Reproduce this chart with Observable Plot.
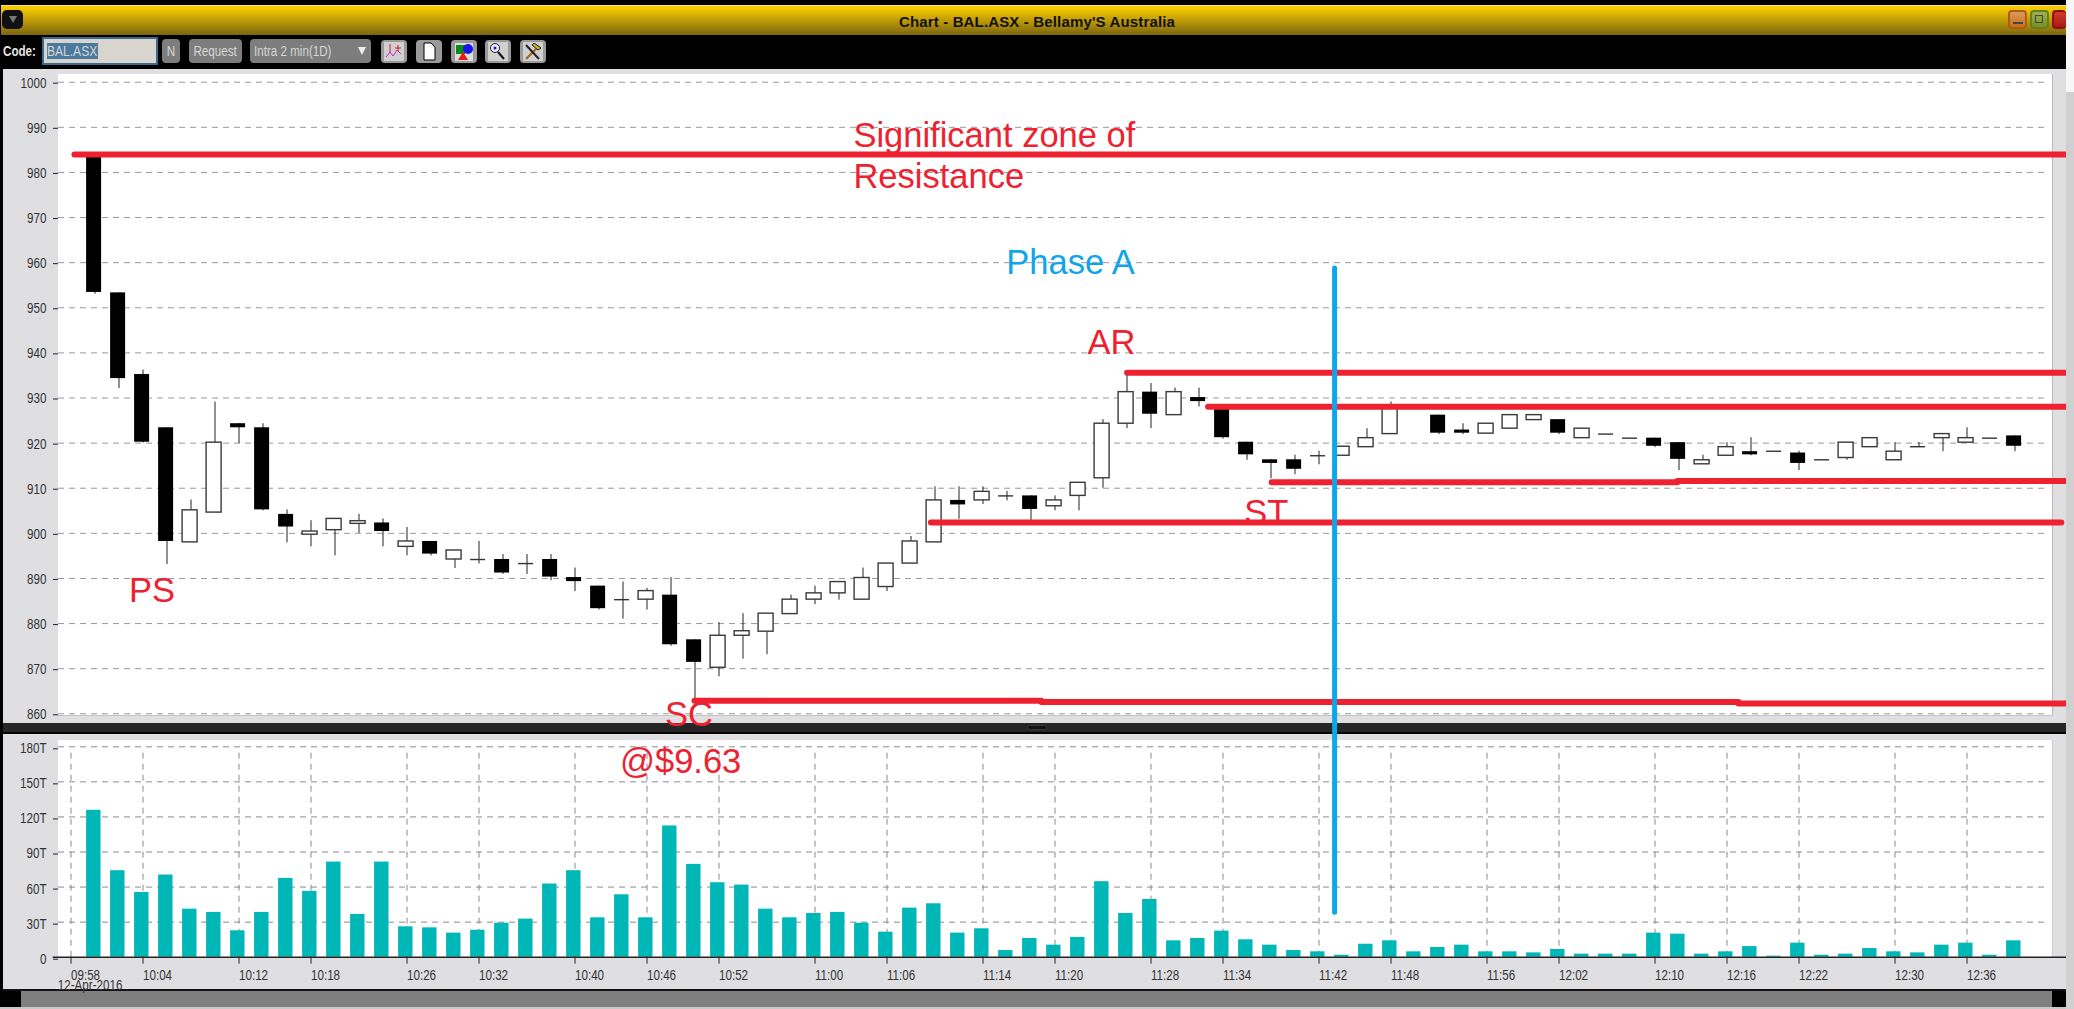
<!DOCTYPE html>
<html>
<head>
<meta charset="utf-8">
<script src="https://cdn.jsdelivr.net/npm/d3@7"></script>
<script src="https://cdn.jsdelivr.net/npm/@observablehq/plot@0.6"></script>
<style>
html,body{margin:0;padding:0;background:#000;width:2074px;height:1009px;overflow:hidden}
#page{position:absolute;left:0;top:0;width:2074px;height:1009px;overflow:hidden;background:#000;font-family:"Liberation Sans",sans-serif}
.b{position:absolute;box-sizing:border-box}
.btn{position:absolute;box-sizing:border-box;top:39px;height:24px;background:#7d7d7d;border-radius:4px;color:#d6d6d6;font-size:14px;line-height:24px;text-align:center;white-space:nowrap}
.nar{display:inline-block;transform:scaleX(.83);white-space:nowrap}
.ico{position:absolute;box-sizing:border-box;top:40px;height:23px;width:26px;background:#9a9a9a;border-radius:4px;overflow:hidden}
.ico svg{position:absolute;left:0;top:0}
.win{position:absolute;top:10px;height:19px;width:19px;border-radius:4px;box-sizing:border-box}
#plots svg{position:absolute;left:0;top:0;background:transparent}
</style>
</head>
<body>
<div id="page">
  <!-- window chrome -->
  <div class="b" style="left:1px;top:5px;width:2065px;height:30px;background:linear-gradient(#f6cd00,#f0c400 12%,#7b6510);border-top:1px solid #f7e27a"></div>
  <div class="b" style="left:0;top:35px;width:2066px;height:34px;background:#000"></div>
  <div class="b" style="left:2px;top:10px;width:21px;height:19px;background:#111;border-radius:5px"></div>
  <div class="b" style="left:9px;top:16px;width:0;height:0;border-left:4px solid transparent;border-right:4px solid transparent;border-top:7px solid #777"></div>
  <div class="b" style="left:0;top:13px;width:2074px;height:18px;text-align:center;font:bold 15px/18px 'Liberation Sans',sans-serif;letter-spacing:.15px;color:#111">Chart - BAL.ASX - Bellamy'S Australia</div>
  <div class="win" style="left:2008px;background:linear-gradient(#d89a5c,#c66f1c);border:2px solid #b45a10"></div>
  <div class="b" style="left:2013px;top:22px;width:10px;height:2px;background:#444"></div>
  <div class="win" style="left:2030px;background:linear-gradient(#a0b050,#77901c);border:2px solid #67801a"></div>
  <div class="b" style="left:2035px;top:15px;width:8px;height:8px;border:1px solid #445"></div>
  <div class="win" style="left:2052px;width:14px;background:linear-gradient(#d03a30,#a81a14);border:2px solid #901010;border-right:0"></div>

  <div class="b" style="left:3px;top:43px;color:#e4e4e4;font-size:14px;font-weight:bold;line-height:17px"><span class="nar" style="transform-origin:left">Code:</span></div>
  <div class="b" style="left:42px;top:37px;width:116px;height:28px;background:#d8d4ce;border:2px solid #3b6a8f"></div>
  <div class="b" style="left:47px;top:43px;width:51px;height:16px;background:#4a7aa0;color:#d8d4ce;font-size:14px;line-height:16px;overflow:hidden"><span class="nar" style="transform-origin:left;transform:scaleX(.86)">BAL.ASX</span></div>
  <div class="btn" style="left:162px;width:18px"><span class="nar">N</span></div>
  <div class="btn" style="left:189px;width:53px"><span class="nar">Request</span></div>
  <div class="btn" style="left:250px;width:121px;text-align:left;padding-left:4px"><span class="nar" style="transform-origin:left">Intra 2 min(1D)</span></div>
  <div class="b" style="left:358px;top:47px;width:0;height:0;border-left:4px solid transparent;border-right:4px solid transparent;border-top:8px solid #eee"></div>
  <div class="ico" style="left:381px"><svg width="26" height="23"><rect x="3" y="2" width="20" height="19" fill="#d0d0d0"/><path d="M5 17l4-5 3 4 4-6 4 4" stroke="#d020c0" fill="none"/><path d="M9 4v8M17 5v6M14 8h6" stroke="#d02020" fill="none"/></svg></div>
  <div class="ico" style="left:416px"><svg width="26" height="23"><path d="M8 3h7l4 4v13H8z" fill="#fff" stroke="#000"/></svg></div>
  <div class="ico" style="left:451px"><svg width="26" height="23"><rect x="4" y="3" width="18" height="18" fill="#ddd"/><rect x="5" y="5" width="9" height="9" fill="#0a8a1a"/><circle cx="17" cy="9" r="5" fill="#1515ee"/><path d="M7 20l5-8 5 8z" fill="#ee1515"/></svg></div>
  <div class="ico" style="left:485px"><svg width="26" height="23"><rect x="3" y="2" width="20" height="19" fill="#d0d0d0"/><circle cx="10" cy="8" r="4.5" fill="#eef" stroke="#223"/><circle cx="10" cy="8" r="1.5" fill="#11e"/><path d="M13 12l6 7" stroke="#111" stroke-width="2"/></svg></div>
  <div class="ico" style="left:520px"><svg width="26" height="23"><rect x="3" y="2" width="20" height="19" fill="#d0d0d0"/><path d="M6 19L19 6" stroke="#a06020" stroke-width="2"/><path d="M6 5l13 14" stroke="#222" stroke-width="2"/><path d="M14 3l7 5-3 2-6-5z" fill="#d0b020" stroke="#222"/></svg></div>

  <!-- panels -->
  <div class="b" style="left:3px;top:69px;width:2063px;height:654px;background:#dfdfe2"></div>
  <div class="b" style="left:58px;top:74px;width:1995px;height:642px;background:#fff;border-right:1px solid #bbb;border-bottom:1.5px solid #c4c4c4"></div>
  <div class="b" style="left:3px;top:723px;width:2063px;height:10px;background:#262626;border-bottom:1px solid #000"></div>
  <div class="b" style="left:1027px;top:725px;width:20px;height:5px;background:#111;border-radius:3px;border:1px solid #3a3a3a"></div>
  <div class="b" style="left:3px;top:734px;width:2063px;height:255px;background:#dfdfe2"></div>
  <div class="b" style="left:58px;top:740px;width:1995px;height:217px;background:#fff;border-right:1px solid #ccc"></div>
  <div class="b" style="left:3px;top:989px;width:2063px;height:2px;background:#111"></div>
  <div class="b" style="left:3px;top:991px;width:18px;height:16px;background:#000"></div>
  <div class="b" style="left:21px;top:991px;width:2031px;height:16px;background:#7f7f7f"></div>
  <div class="b" style="left:2052px;top:991px;width:14px;height:16px;background:#000"></div>
  <div class="b" style="left:0;top:1007px;width:2074px;height:2px;background:#c8c8c8"></div>

  <div id="plots"></div>

  <!-- right edge of the window sits above the lines that run into it -->
  <div class="b" style="left:2066px;top:0;width:8px;height:92px;background:#f6f6f6"></div>
  <div class="b" style="left:2066px;top:92px;width:8px;height:917px;background:#d0d0d0"></div>
</div>

<script>
// Candles: one every 2 minutes, first at 10:00
const firstCandleMinute = 2; // minutes after 09:58
const candleOpen = [984,953.3,935.2,923.4,898,904.6,924.3,923.4,904.2,899.7,900.7,902.1,902.3,897,898.2,894.2,894.2,894.2,893.3,894.2,890.2,888.3,885.3,885.3,886.3,876.4,870.2,877.3,878.2,882.1,885.3,886.7,885.3,888.1,893.3,898,907.3,907.3,908.3,908.3,906,908.3,912.2,924.3,931.3,926.2,930.1,928,920.2,916.3,916.3,917.2,917.2,919.1,922,928,926.2,922.9,922.1,923.2,925.1,925.2,921.1,922,921.1,921.1,920.1,915.3,917.2,918.1,918.2,917.8,916.3,916.7,919.1,916.2,919.2,921.1,920.1,921.1,921.6];
const candleClose = [953.4,934.3,920.2,898.2,905.1,920.1,923.4,905.2,901.4,900.4,903.2,902.7,900.4,898.2,895.4,896.2,894.2,891.2,893.3,890.3,889.3,883.3,885.3,887.2,875.3,871.4,877.3,878.3,882.2,885.3,886.7,889.2,890.1,893.3,898.2,907.3,906.3,909.2,908.3,905.3,907.3,911.2,924.3,931.3,926.4,931.3,929.2,921.2,917.4,915.5,914.2,917.2,919.2,921.1,928,928,922.2,922.2,924.3,926.2,926.2,922.2,923.2,922,921.1,919.3,916.4,916.2,919.1,917.4,918.2,915.5,916.3,920.1,921.1,918.1,919.2,922,921.1,921.1,919.3];
const candleHigh = [984,953.3,936.2,923.4,907.4,929.1,924.3,924.3,905.2,902.8,903.2,904.2,903.2,901.3,898.2,896.2,898.2,895.3,895.3,895.3,892.3,888.3,889.2,887.8,890.2,876.4,880.2,882.2,882.2,886.3,888.3,889.2,892.3,893.3,899.3,910.3,910.3,910.3,909.3,908.3,908.3,911.2,925.2,935.4,933.2,932.2,932.2,928,920.2,916.3,917.3,918.2,919.2,923.2,929.1,928,926.2,924.3,924.3,926.2,926.2,925.2,923.2,922,921.1,921.1,920.1,917.3,920.1,921.2,918.2,918.2,916.3,920.1,921.1,920.1,920.1,922,923.4,921.1,921.6];
const candleLow = [953,932.1,920,893.1,898,904.6,919.9,905,897.9,897,895,900,897,895,895,892.2,893.2,890.9,890.9,889.5,887.1,883,881,883,875,863.3,868.2,872.1,873.1,882,884.2,885.2,885.3,887.1,893.3,898,903.1,906.4,907.2,902.7,905,905,910,923.2,923.2,926.2,928,920.9,916.2,912.1,913,915.2,917.2,919.1,922,928,921.9,921.9,922.1,923.2,925.1,921.9,921.1,922,921.1,919,913.9,915.3,917.2,917.2,918.2,913.9,916.3,916.2,919.1,916.2,919.2,918.1,920.1,921.1,918.1];
const volumes = [125.7,74,55.4,70.3,41.1,38.3,22.6,38.3,67.4,56.3,81.4,36.6,81.4,26,25.1,20.6,23.1,29.1,32.6,62.6,74,33.7,53.4,33.7,112.3,79.4,63.7,61.7,41.1,33.7,37.4,38.3,29.1,21.4,42,45.7,20.6,24.3,5.7,16,10.3,16.9,64.6,37.4,49.4,14,16,22.3,14.9,10.3,5.7,4.6,1.7,11.1,14,4.6,8.3,10.3,4.6,4.6,3.7,6.6,2.6,2.6,2.6,20.6,19.7,2.6,4.6,9.1,0.9,12,1.7,2.6,7.4,4.6,3.7,10.3,12,1.7,14];

const priceTicks = [860,870,880,890,900,910,920,930,940,950,960,970,980,990,1000];
const volumeTicks = [0,30,60,90,120,150,180];
const timeLabels = ["09:58","10:04","10:12","10:18","10:26","10:32","10:40","10:46","10:52","11:00","11:06","11:14","11:20","11:28","11:34","11:42","11:48","11:56","12:02","12:10","12:16","12:22","12:30","12:36"];
const dateLabel = "12-Apr-2016";

// Red levels, x in minutes after 09:58, y in price
const levelStart = [0.33,88.05,94.8,100.1,133.9,71.7,52,80.9,139];
const levelEnd   = [167.5,167.5,167.5,133.9,167.5,165.9,80.9,139,167.5];
const levelPrice = [984,935.6,928.05,911.3,911.6,902.4,862.9,862.6,862.3];

// Text notes, x in minutes after 09:58, y in price
const noteText  = ["Significant zone of","Resistance","AR","ST","PS","SC","@$9.63"];
const noteX     = [65.2,65.2,86.7,99.6,6.75,51.5,50.8];
const notePrice = [988,979.1,942.2,904.6,887.3,859.7,849.4];
const noteAnchor = ["start","start","middle","middle","middle","middle","middle"];
const phaseLabel = "Phase A", phaseX = 83.3, phasePrice = 960;
const phaseLineX = 105.3, phaseLineTop = 958.7, phaseLineBottom = 815.9;

const toMinute = s => { const [h,m] = s.split(":").map(Number); return (h-9)*60 + m - 58; };
const labelByMinute = new Map(timeLabels.map(s => [toMinute(s), s]));
const tickMinutes = timeLabels.map(toMinute);

const candles = candleOpen.map((open,i) => ({
  m: firstCandleMinute + 2*i, open, close: candleClose[i], high: candleHigh[i], low: candleLow[i]
}));
const falling = candles.filter(d => d.close < d.open);
const rising  = candles.filter(d => d.close > d.open);
const flat    = candles.filter(d => d.close === d.open);
const bars = volumes.map((v,i) => ({m: firstCandleMinute + 2*i, v}));
const levels = levelPrice.map((y,i) => ({x1: levelStart[i], x2: levelEnd[i], y}));
const notes = noteText.map((t,i) => ({t, x: noteX[i], y: notePrice[i], a: noteAnchor[i]}));

const W = 2074, H = 1009;
const xScale = {type:"linear", domain:[0,100], range:[70.5,1270.5], axis:null};
const axisFont = {fontFamily:"Liberation Sans", fontSize:14, fill:"#333"};
const noteFont = {fontSize:34.5, fontFamily:"Liberation Sans"};
const gridX1 = -1.04, gridX2 = 164.8;
const RED = "#ee2130", BLUE = "#0ea5e9";

const volumePlot = Plot.plot({
  width:W, height:H, marginLeft:58, marginRight:21, marginTop:740, marginBottom:52.3,
  style:{background:"transparent"},
  x:{...xScale},
  y:{type:"linear", domain:[0,180], range:[956.7,746.3]},
  marks:[
    Plot.ruleY(volumeTicks.filter(d=>d>0),{x1:gridX1,x2:gridX2,stroke:"#8a8a8a",strokeDasharray:"6,5",strokeWidth:1}),
    Plot.ruleX(tickMinutes,{y1:0,y2:177,stroke:"#8a8a8a",strokeDasharray:"6,5",strokeWidth:1}),
    Plot.rect(bars,{x1:d=>d.m-0.7,x2:d=>d.m+0.5,y1:0,y2:"v",fill:"#00b7b8"}),
    Plot.ruleY([0],{x1:-1.48,x2:166.3,stroke:"#222",strokeWidth:1.5}),
    Plot.axisY(volumeTicks,{anchor:"left",tickSize:5,tickPadding:7,label:null,dy:2,
      tickFormat:d=>d?d+"T":"0",stroke:"#222",...axisFont}),
    Plot.axisX(tickMinutes,{anchor:"bottom",tickSize:7,tickPadding:6,label:null,textAnchor:"start",
      tickFormat:d=>labelByMinute.get(d),stroke:"#222",...axisFont}),
    Plot.text([dateLabel],{x:-1.1,y:-24.3,text:d=>d,textAnchor:"start",...axisFont})
  ]
});

const pricePlot = Plot.plot({
  width:W, height:H, marginLeft:58, marginRight:21, marginTop:74, marginBottom:293,
  style:{background:"transparent"},
  x:{...xScale},
  y:{type:"linear", domain:[860,1000], range:[713.3,81.7]},
  marks:[
    Plot.ruleY(priceTicks,{x1:gridX1,x2:gridX2,stroke:"#999",strokeDasharray:"6,5",strokeWidth:1}),
    Plot.axisY(priceTicks,{anchor:"left",tickSize:5,tickPadding:7,label:null,dy:1,stroke:"#222",tickFormat:d=>String(d),...axisFont}),
    Plot.ruleX(candles,{x:"m",y1:"low",y2:"high",stroke:"#222",strokeWidth:1}),
    Plot.rect(rising,{x1:d=>d.m-0.7,x2:d=>d.m+0.55,y1:"open",y2:"close",fill:"#fff",stroke:"#3a3a3a",strokeWidth:1.4}),
    Plot.rect(falling,{x1:d=>d.m-0.7,x2:d=>d.m+0.55,y1:"open",y2:"close",fill:"#000"}),
    Plot.ruleY(flat,{x1:d=>d.m-0.7,x2:d=>d.m+0.55,y:"open",stroke:"#333",strokeWidth:1.4}),
    Plot.ruleY(levels,{x1:"x1",x2:"x2",y:"y",stroke:RED,strokeWidth:6,strokeLinecap:"round"}),
    Plot.text(notes,{x:"x",y:"y",text:"t",textAnchor:"start",filter:d=>d.a==="start",fill:RED,...noteFont}),
    Plot.text(notes,{x:"x",y:"y",text:"t",textAnchor:"middle",filter:d=>d.a==="middle",fill:RED,...noteFont}),
    Plot.text([phaseLabel],{x:phaseX,y:phasePrice,text:d=>d,fill:BLUE,...noteFont}),
    Plot.ruleX([phaseLineX],{y1:phaseLineBottom,y2:phaseLineTop,stroke:BLUE,strokeWidth:5,strokeLinecap:"round"})
  ]
});

const host = document.getElementById("plots");
host.append(volumePlot, pricePlot);

// The terminal's axis font is a condensed one: narrow the axis labels to that width.
const narrow = el => {
  const len = el.getComputedTextLength();
  if (len > 0) { el.setAttribute("textLength", (len*0.83).toFixed(1)); el.setAttribute("lengthAdjust","spacingAndGlyphs"); }
};
volumePlot.querySelectorAll("text").forEach(narrow);
pricePlot.querySelectorAll('g[aria-label="y-axis tick label"] text').forEach(narrow);
</script>
</body>
</html>
